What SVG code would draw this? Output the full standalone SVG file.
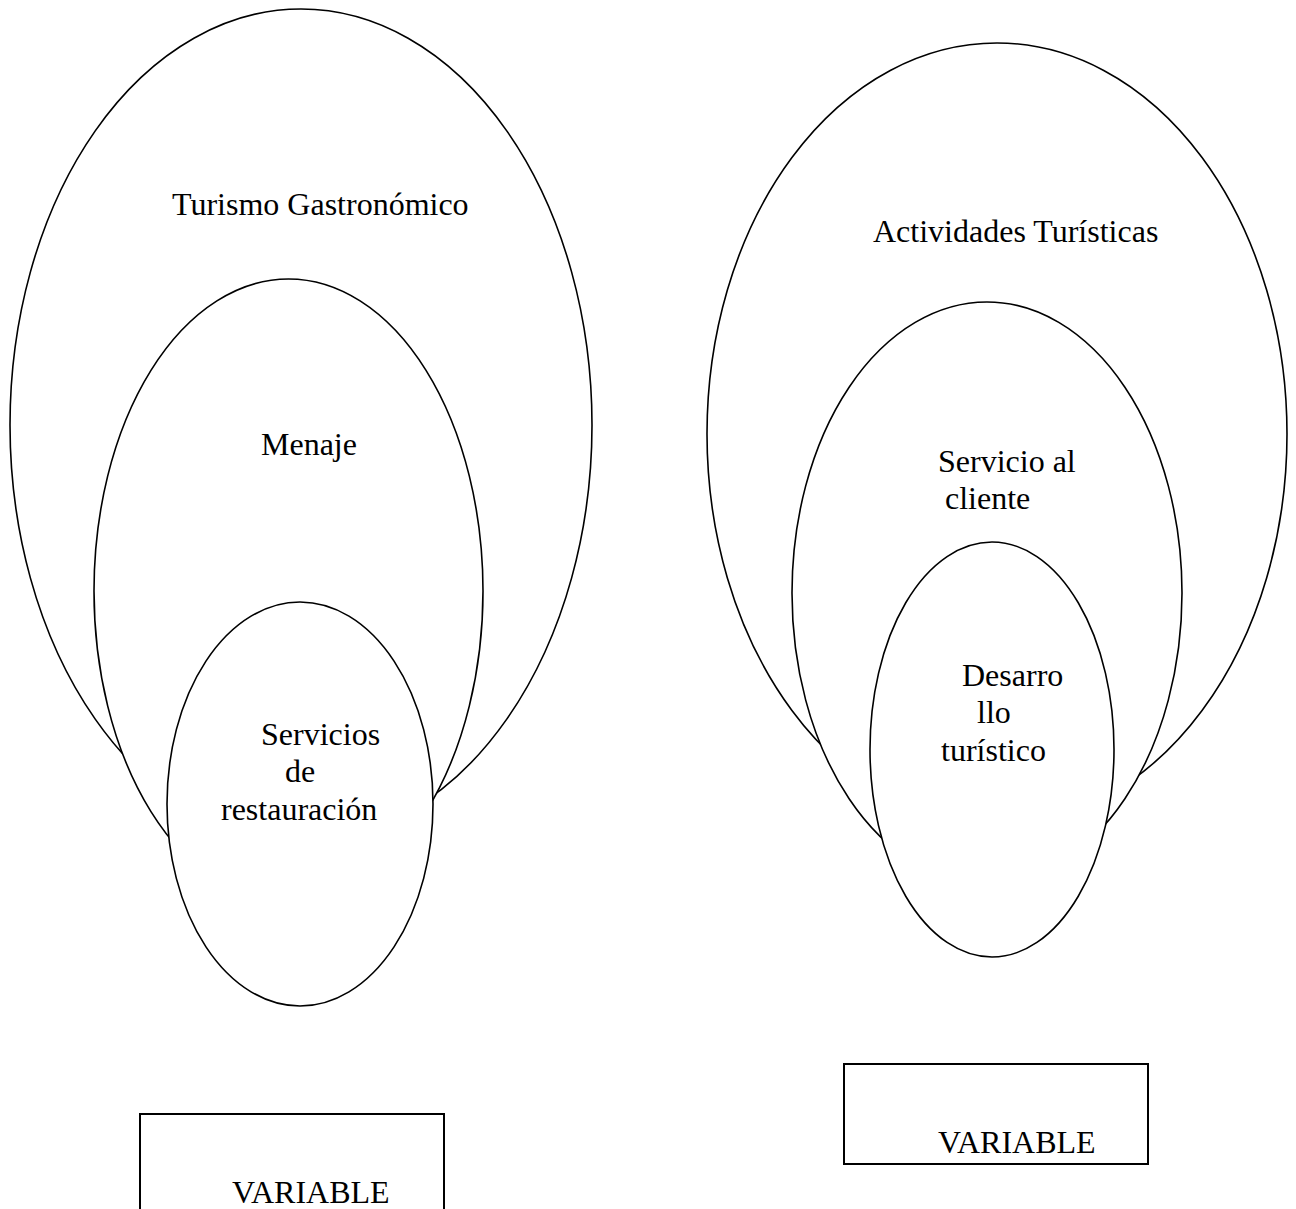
<svg xmlns="http://www.w3.org/2000/svg" width="1296" height="1209" viewBox="0 0 1296 1209">
  <style>
    .shape { fill: #ffffff; stroke: #000000; stroke-width: 1.6; }
    .box { fill: #ffffff; stroke: #000000; stroke-width: 2; }
    .label { font-family: "Liberation Serif", "Times New Roman", serif; font-size: 32px; fill: #000000; }
  </style>
  <rect x="0" y="0" width="1296" height="1209" fill="#ffffff"/>

  <!-- Left nested set -->
  <g id="turismo-gastronomico">
    <ellipse class="shape" cx="301" cy="425" rx="291" ry="416"/>
    <text class="label" x="172" y="215">Turismo Gastronómico</text>
  </g>
  <g id="menaje">
    <ellipse class="shape" cx="288.5" cy="591" rx="194.5" ry="312"/>
    <text class="label" x="261" y="455">Menaje</text>
  </g>
  <g id="servicios-restauracion">
    <ellipse class="shape" cx="300" cy="804" rx="133" ry="202"/>
    <text class="label" x="261" y="745">Servicios</text>
    <text class="label" x="285" y="782">de</text>
    <text class="label" x="221" y="820">restauración</text>
  </g>

  <!-- Right nested set -->
  <g id="actividades-turisticas">
    <ellipse class="shape" cx="997" cy="434" rx="290" ry="391"/>
    <text class="label" x="873" y="242">Actividades Turísticas</text>
  </g>
  <g id="servicio-cliente">
    <ellipse class="shape" cx="987" cy="593" rx="195" ry="291"/>
    <text class="label" x="938" y="472">Servicio al</text>
    <text class="label" x="945" y="509">cliente</text>
  </g>
  <g id="desarrollo-turistico">
    <ellipse class="shape" cx="992" cy="749.5" rx="122" ry="207.5"/>
    <text class="label" x="962" y="686">Desarro</text>
    <text class="label" x="977" y="723">llo</text>
    <text class="label" x="941" y="761">turístico</text>
  </g>

  <!-- Variable boxes -->
  <g id="variable-left">
    <rect class="box" x="140" y="1114" width="304" height="100"/>
    <text class="label" x="232" y="1203">VARIABLE</text>
  </g>
  <g id="variable-right">
    <rect class="box" x="844" y="1064" width="304" height="100"/>
    <text class="label" x="938" y="1153">VARIABLE</text>
  </g>

  <g id="connectors"/>
</svg>
